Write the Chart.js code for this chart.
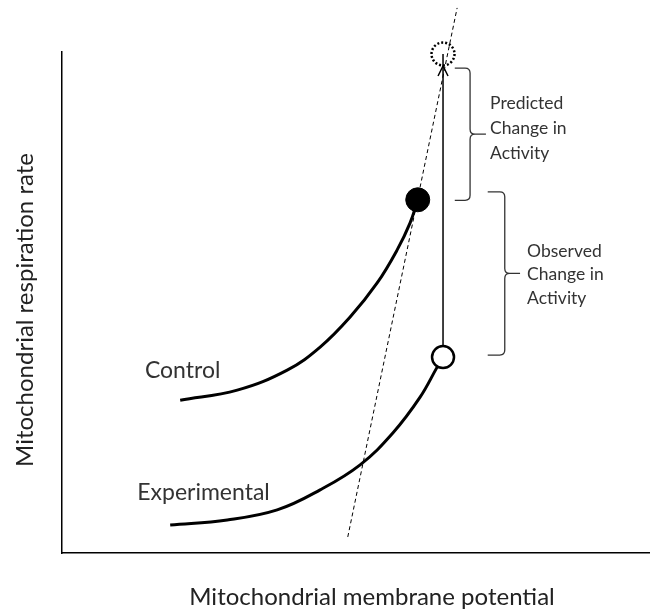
<!DOCTYPE html>
<html>
<head>
<meta charset="utf-8">
<script src="https://cdn.jsdelivr.net/npm/chart.js@4/dist/chart.umd.min.js"></script>
<style>
  html, body { margin: 0; padding: 0; background: #fff; }
  canvas { display: block; }
</style>
</head>
<body>
<canvas id="chart" width="650" height="612"></canvas>
<script>
// Respiration rate vs. membrane potential, arbitrary units (0-100 on both axes)
const controlX = [20.1, 29.8, 38.3, 43.9, 49.0, 53.6, 57.0, 59.2, 60.5];
const controlY = [30.5, 32.5, 36.5, 41.1, 47.1, 53.9, 60.5, 65.9, 70.5];
const experimentalX = [18.4, 28.1, 36.6, 43.9, 50.7, 56.3, 60.9, 63.8, 64.8];
const experimentalY = [5.6, 6.6, 8.6, 12.6, 17.6, 24.0, 31.1, 37.1, 39.1];

// Steady-state operating points
const controlPoint = [60.5, 70.5];
const experimentalPoint = [64.8, 39.1];
const predictedPoint = [64.8, 99.6];

// Dashed reference line
const refLineX = [48.6, 67.2];
const refLineY = [3.2, 108.8];

// Activity ranges marked by braces: [low, high]
const predictedRange = [70.4, 96.8];
const observedRange = [39.5, 72.1];

// Text
const curveLabels = ['Control', 'Experimental'];
const predictedLabel = ['Predicted', 'Change in', 'Activity'];
const observedLabel = ['Observed', 'Change in', 'Activity'];
const xTitle = 'Mitochondrial membrane potential';
const yTitle = 'Mitochondrial respiration rate';

const toPoints = (xs, ys) => xs.map((v, i) => ({ x: v, y: ys[i] }));

const FONT = "Lato, 'Liberation Sans', sans-serif";
const INK = '#333';

// Draws the arrow, dotted predicted point, braces, labels and axis titles
const annotations = {
  id: 'annotations',
  afterDatasetsDraw(chart) {
    const { ctx, chartArea, scales: { x, y } } = chart;
    const px = v => x.getPixelForValue(v);
    const py = v => y.getPixelForValue(v);
    ctx.save();

    // arrow head where the vertical line meets the predicted point
    const ax = px(experimentalPoint[0]);
    const tipY = py(predictedPoint[1]) + 12;
    ctx.strokeStyle = '#000';
    ctx.lineWidth = 1.5;
    ctx.beginPath();
    ctx.moveTo(ax - 5, tipY + 10);
    ctx.lineTo(ax, tipY);
    ctx.lineTo(ax + 5, tipY + 10);
    ctx.stroke();

    // dotted circle for the predicted point
    ctx.setLineDash([2, 2]);
    ctx.lineWidth = 2.5;
    ctx.beginPath();
    ctx.arc(px(predictedPoint[0]), py(predictedPoint[1]), 11.5, 0, Math.PI * 2);
    ctx.stroke();
    ctx.setLineDash([]);

    // braces
    const brace = (xl, xs, xt, lo, hi) => {
      const x0 = px(xl), x1 = px(xs), x2 = px(xt);
      const yT = py(hi), yB = py(lo), yM = (yT + yB) / 2, r = 5;
      ctx.beginPath();
      ctx.moveTo(x0, yT);
      ctx.lineTo(x1 - r, yT);
      ctx.quadraticCurveTo(x1, yT, x1, yT + r);
      ctx.lineTo(x1, yM - r);
      ctx.quadraticCurveTo(x1, yM, x1 + r, yM);
      ctx.lineTo(x2, yM);
      ctx.moveTo(x1 + r, yM);
      ctx.quadraticCurveTo(x1, yM, x1, yM + r);
      ctx.lineTo(x1, yB - r);
      ctx.quadraticCurveTo(x1, yB, x1 - r, yB);
      ctx.lineTo(x0, yB);
      ctx.stroke();
    };
    ctx.strokeStyle = INK;
    ctx.lineWidth = 1.3;
    brace(66.8, 69.4, 72.1, predictedRange[0], predictedRange[1]);
    brace(72.4, 75.3, 77.9, observedRange[0], observedRange[1]);

    // labels
    ctx.fillStyle = INK;
    ctx.textAlign = 'left';
    ctx.textBaseline = 'middle';
    ctx.font = `17.5px ${FONT}`;
    predictedLabel.forEach((t, i) => ctx.fillText(t, px(72.8), py(89.8 - i * 5)));
    observedLabel.forEach((t, i) => ctx.fillText(t, px(79.1), py(60.3 - i * 4.7)));
    ctx.font = `23px ${FONT}`;
    ctx.fillText(curveLabels[0], px(14.1), py(36.5));
    ctx.fillText(curveLabels[1], px(12.8), py(12.0));

    // axis titles
    ctx.fillStyle = '#222';
    ctx.font = `24px ${FONT}`;
    ctx.textAlign = 'center';
    ctx.fillText(xTitle, chartArea.left + 310, chartArea.bottom + 44);
    ctx.translate(25, chartArea.top + 258);
    ctx.rotate(-Math.PI / 2);
    ctx.fillText(yTitle, 0, 0);
    ctx.restore();
  }
};

const curve = (xs, ys) => ({
  data: toPoints(xs, ys),
  showLine: true,
  borderColor: '#000',
  borderWidth: 3,
  pointRadius: 0,
  tension: 0.4,
  order: 1
});

new Chart(document.getElementById('chart'), {
  type: 'scatter',
  data: {
    datasets: [
      curve(controlX, controlY),
      curve(experimentalX, experimentalY),
      {
        data: toPoints(refLineX, refLineY),
        showLine: true,
        borderColor: '#000',
        borderWidth: 1,
        borderDash: [4, 3],
        pointRadius: 0,
        clip: false,
        order: 3
      },
      {
        data: [
          { x: experimentalPoint[0], y: experimentalPoint[1] },
          { x: predictedPoint[0], y: predictedPoint[1] }
        ],
        showLine: true,
        borderColor: '#000',
        borderWidth: 1.5,
        pointRadius: 0,
        clip: false,
        order: 2
      },
      {
        data: [{ x: controlPoint[0], y: controlPoint[1] }],
        pointRadius: 12,
        backgroundColor: '#000',
        borderColor: '#000',
        borderWidth: 1,
        order: 0
      },
      {
        data: [{ x: experimentalPoint[0], y: experimentalPoint[1] }],
        pointRadius: 11,
        backgroundColor: '#fff',
        borderColor: '#000',
        borderWidth: 2.5,
        order: 0
      }
    ]
  },
  options: {
    responsive: false,
    animation: false,
    devicePixelRatio: 1,
    layout: { autoPadding: false, padding: { top: 52, right: 0, left: 62, bottom: 59 } },
    plugins: { legend: { display: false }, tooltip: { enabled: false } },
    scales: {
      x: {
        min: 0, max: 100,
        grid: { display: false, drawTicks: false },
        ticks: { display: false },
        border: { color: '#000', width: 1.5 }
      },
      y: {
        min: 0, max: 100,
        grid: { display: false, drawTicks: false },
        ticks: { display: false },
        border: { color: '#000', width: 1.5 }
      }
    }
  },
  plugins: [annotations]
});
</script>
</body>
</html>
